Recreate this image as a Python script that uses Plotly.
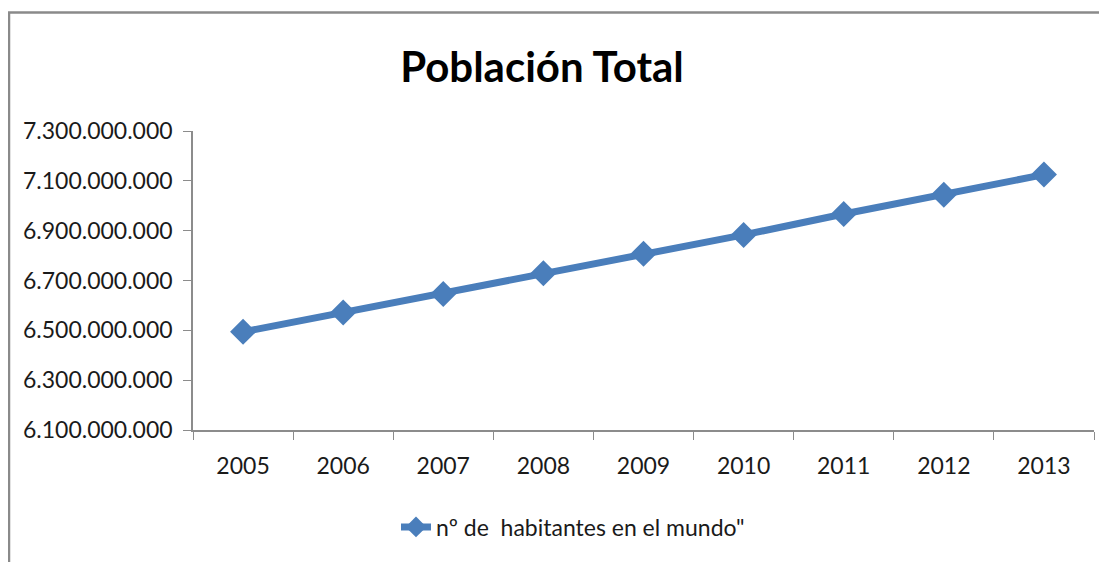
import plotly.graph_objects as go

# data
years = ['2005', '2006', '2007', '2008', '2009', '2010', '2011', '2012', '2013']
habitantes = [6494000000, 6572000000, 6646000000, 6729000000, 6807000000,
              6883000000, 6967000000, 7044000000, 7125000000]
y_ticks = [6100000000, 6300000000, 6500000000, 6700000000, 6900000000, 7100000000, 7300000000]
y_labels = ['{:,}'.format(v).replace(',', '.') for v in y_ticks]

serie_name = 'nº de\u00a0 habitantes en el mundo"'
blue = '#4A7EBB'
axis_grey = '#8C8C8C'
font_family = 'Lato, Open Sans, sans-serif'

# the page body adds an 8px margin, so the figure is 8px smaller and
# every position below is relative to (8, 8) on the page
fig = go.Figure(go.Scatter(
    x=years, y=habitantes, name=serie_name, mode='lines+markers',
    line={'color': blue, 'width': 7},
    marker={'symbol': 'diamond', 'size': 20, 'color': blue},
))

# plot area on the page: x 193..1094, y 131..430
fig.update_layout(
    width=1099, height=554,
    margin={'l': 185, 'r': 13, 't': 123, 'b': 132},
    paper_bgcolor='white', plot_bgcolor='white',
    font={'family': font_family, 'size': 23, 'color': '#1a1a1a'},
    title={'text': '<b>Población Total</b>', 'font': {'size': 42, 'color': 'black'},
           'x': (542 - 8) / 1099, 'xanchor': 'center', 'xref': 'container',
           'y': 1 - (67 - 8) / 554, 'yanchor': 'middle'},
    showlegend=True,
    legend={'orientation': 'h', 'x': (396 - 193) / 901, 'xanchor': 'left',
            'y': (430 - 527) / 299, 'yanchor': 'middle',
            'font': {'size': 23}, 'bgcolor': 'rgba(0,0,0,0)'},
)

fig.update_xaxes(
    type='category', range=[-0.5, len(years) - 0.5], tickson='boundaries',
    ticks='outside', ticklen=8, tickcolor=axis_grey, showline=True,
    linecolor=axis_grey, linewidth=1.5, showgrid=False, zeroline=False,
    ticklabelstandoff=15,
)
fig.update_yaxes(
    range=[6100000000, 7300000000], tickvals=y_ticks, ticktext=y_labels,
    ticks='outside', ticklen=8, tickcolor=axis_grey, showline=True,
    linecolor=axis_grey, linewidth=1.5, showgrid=False, zeroline=False,
    ticklabelstandoff=6,
)

# outer chart frame (left and top edges visible, rest cut off)
fig.add_shape(type='rect', xref='paper', yref='paper',
              x0=(9 - 193) / 901, x1=1.05, y0=-0.6, y1=(430 - 12.5) / 299,
              line={'color': '#8A8A8A', 'width': 2.5}, layer='below')

fig.write_html('out.html')
